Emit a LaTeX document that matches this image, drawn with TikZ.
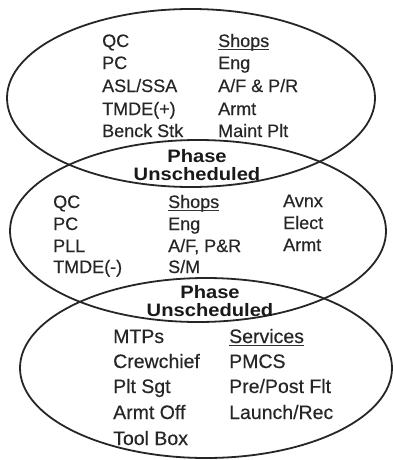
\documentclass[tikz,border=0pt]{standalone}
\usepackage{fontspec}
\setmainfont{Liberation Sans}
\newfontfamily\bodyfont[FakeBold=0.35]{Liberation Sans}
\begin{document}
\begin{tikzpicture}[x=1pt,y=-1pt,
  ring/.style={line width=1.8pt, black!85},
  lbl/.style={inner sep=0pt, anchor=base west, font=\bodyfont\fontsize{18}{20}\selectfont, text=black!85},
  lblb/.style={inner sep=0pt, anchor=base west, font=\bodyfont\fontsize{19.5}{22}\selectfont, text=black!85},
  hdr/.style={inner sep=0pt, anchor=base, font=\bfseries\fontsize{18}{20}\selectfont, text=black!90, xscale=1.12},
  uline/.style={line width=0.9pt, black!80}]
\useasboundingbox (0,0) rectangle (393,460);
\fill[white] (0,0) rectangle (393,460);
% ellipses
\draw[ring] (191,98) ellipse [x radius=184pt, y radius=89pt];
\draw[ring] (198,231) ellipse [x radius=188pt, y radius=91pt];
\draw[ring] (206,368) ellipse [x radius=186pt, y radius=90pt];
% top ellipse
\node[lbl] (t1) at (102,47) {QC};
\node[lbl] (t2) at (102,69) {PC};
\node[lbl] (t3) at (102,92) {ASL/SSA};
\node[lbl] (t4) at (102,115) {TMDE(+)};
\node[lbl] (t5) at (102,137) {Benck Stk};
\node[lbl] (ts) at (218,47) {Shops};
\node[lbl] (t6) at (218,69) {Eng};
\node[lbl] (t7) at (218,92) {A/F \& P/R};
\node[lbl] (t8) at (218,115) {Armt};
\node[lbl] (t9) at (218,137) {Maint Plt};
\draw[uline] ([yshift=-2pt]ts.base west) -- ([yshift=-2pt]ts.base east);
% first intersection
\node[hdr] (p1) at (197,162) {Phase};
\node[hdr] (u1) at (197,180) {Unscheduled};
% middle ellipse
\node[lbl] (m1) at (53,208) {QC};
\node[lbl] (m2) at (53,230) {PC};
\node[lbl] (m3) at (53,252) {PLL};
\node[lbl] (m4) at (53,273) {TMDE(-)};
\node[lbl] (ms) at (168,208) {Shops};
\node[lbl] (m5) at (168,230) {Eng};
\node[lbl] (m6) at (168,252) {A/F, P\&R};
\node[lbl] (m7) at (168,273) {S/M};
\node[lbl] (m8) at (283,207) {Avnx};
\node[lbl] (m9) at (283,229) {Elect};
\node[lbl] (m10) at (283,251) {Armt};
\draw[uline] ([yshift=-2pt]ms.base west) -- ([yshift=-2pt]ms.base east);
% second intersection
\node[hdr] (p2) at (210,298) {Phase};
\node[hdr] (u2) at (210,316) {Unscheduled};
% bottom ellipse
\node[lblb] (b1) at (113,343) {MTPs};
\node[lblb] (b2) at (113,368) {Crewchief};
\node[lblb] (b3) at (113,393) {Plt Sgt};
\node[lblb] (b4) at (113,419) {Armt Off};
\node[lblb] (b5) at (113,445) {Tool Box};
\node[lblb] (bs) at (229,343) {Services};
\node[lblb] (b6) at (229,368) {PMCS};
\node[lblb] (b7) at (229,393) {Pre/Post Flt};
\node[lblb] (b8) at (229,419) {Launch/Rec};
\draw[uline] ([yshift=-2pt]bs.base west) -- ([yshift=-2pt]bs.base east);
\end{tikzpicture}
\end{document}
